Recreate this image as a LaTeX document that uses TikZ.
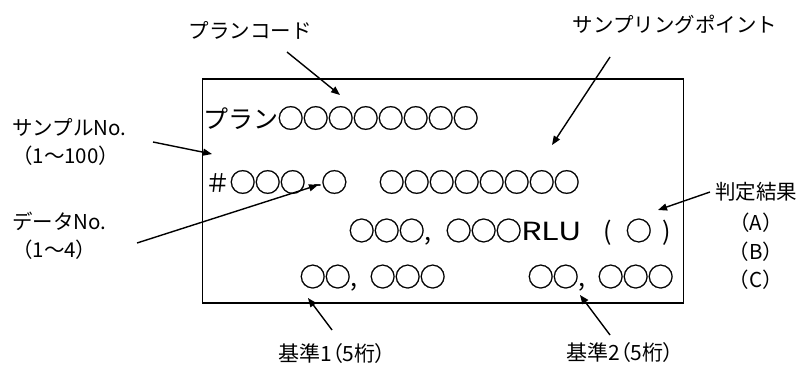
\documentclass[tikz,border=0pt]{standalone}
\usepackage{fontspec}
\setmainfont{Noto Sans CJK JP}
\newfontfamily\marufont{Noto Sans CJK JP}[FakeBold=0.8]
\newfontfamily\pfont{Noto Sans CJK JP}[RawFeature=+palt]
\newcommand{\maru}{\makebox[25pt]{\marufont\fontsize{26.5}{28}\selectfont ○}}
\usetikzlibrary{arrows.meta}
\begin{document}
\begin{tikzpicture}[x=1pt,y=-1pt,
  lbl/.style={inner sep=0pt,font=\fontsize{20.5}{28}\selectfont},
  inn/.style={inner sep=0pt,anchor=west,font=\fontsize{25}{30}\selectfont},
  arr/.style={line width=1.4pt,-{Triangle[length=9pt,width=7pt]}},
  frame/.style={draw,line width=1.6pt}]
\useasboundingbox (0,0) rectangle (809,367);
% box
\node[frame,minimum width=481pt,minimum height=224pt,inner sep=0pt,anchor=north west] (box) at (201.5,78) {};
% inner texts
\node[inn] (r1) at (203,118) {プラン\maru\maru\maru\maru\maru\maru\maru\maru};
\node[inn] (r2a) at (205,182) {＃\maru\maru\maru\hspace{8pt}-\maru};
\node[inn] (r2b) at (379,182) {\maru\maru\maru\maru\maru\maru\maru\maru};
\node[inn] (r3) at (349,232) {\maru\maru\maru,\hspace{15pt}\maru\maru\maru\scalebox{1.3}[1]{RLU}\hspace{22pt}(\hspace{14pt}\maru\hspace{11pt})};
\node[inn] (r4a) at (300,278) {\maru\maru,\hspace{13pt}\maru\maru\maru};
\node[inn] (r4b) at (528,278) {\maru\maru,\hspace{13pt}\maru\maru\maru};
% outer labels
\node[lbl] (plan) at (250,30) {プランコード};
\node[lbl] (samp) at (675,25) {サンプリングポイント};
\node[lbl,anchor=west,align=left] (sno) at (12,142) {サンプルNo.\\（1～100）};
\node[lbl,anchor=west,align=left] (dno) at (12,236) {データNo.\\（1～4）};
\node[lbl] (hant) at (756,192) {判定結果};
\node[lbl,align=center,font=\fontsize{20.5}{28.5}\selectfont] (abc) at (756,251.5) {（A）\\（B）\\（C）};
\node[lbl,font=\pfont\fontsize{21}{28}\selectfont] (k1) at (332,354) {基準1（5桁）};
\node[lbl,font=\pfont\fontsize{21}{28}\selectfont] (k2) at (620,353) {基準2（5桁）};
% arrow ends
\coordinate (p1s) at (287,52);  \coordinate (p1e) at (340,95);
\coordinate (p2s) at (610,57);  \coordinate (p2e) at (552,145);
\coordinate (p3s) at (153,142); \coordinate (p3e) at (212,154);
\coordinate (p4s) at (137,243); \coordinate (p4e) at (318,185);
\coordinate (p5s) at (710,192); \coordinate (p5e) at (658,210);
\coordinate (p6s) at (332,330); \coordinate (p6e) at (308,298);
\coordinate (p7s) at (610,335); \coordinate (p7e) at (580,295);
\draw[arr] (p1s) -- (p1e);
\draw[arr] (p2s) -- (p2e);
\draw[arr] (p3s) -- (p3e);
\draw[arr] (p4s) -- (p4e);
\draw[arr] (p5s) -- (p5e);
\draw[arr] (p6s) -- (p6e);
\draw[arr] (p7s) -- (p7e);
\end{tikzpicture}
\end{document}
